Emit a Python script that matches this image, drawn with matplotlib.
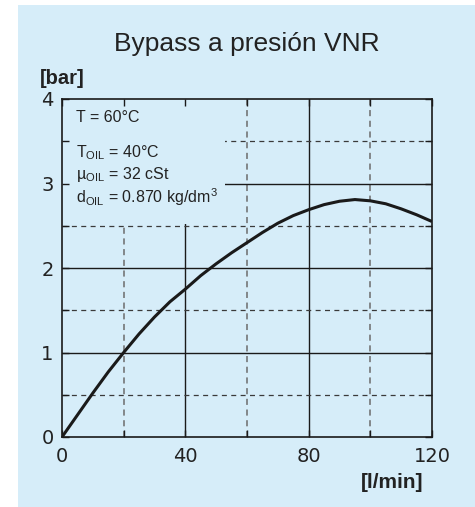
import matplotlib
matplotlib.use("Agg")
import matplotlib.pyplot as plt
from matplotlib.patches import Rectangle

# curve
flow = [0, 5, 10, 15, 20, 25, 30, 35, 40, 45, 50, 55, 60,
        65, 70, 75, 80, 85, 90, 95, 100, 105, 110, 115, 120]
pressure = [0, 0.26, 0.52, 0.77, 1.0, 1.22, 1.42, 1.60, 1.75, 1.91, 2.05, 2.18, 2.30,
            2.42, 2.53, 2.62, 2.69, 2.75, 2.79, 2.81, 2.795, 2.76, 2.70, 2.63, 2.55]

x_major = [0, 40, 80, 120]
x_minor = [20, 60, 100]
y_major = [0, 1, 2, 3, 4]
y_minor = [0.5, 1.5, 2.5, 3.5]

title = "Bypass a presión VNR"
notes = [("T = 60°C", 3.73),
         (r"T$_{\rm OIL}$ = 40°C", 3.31),
         (r"µ$_{\rm OIL}$ = 32 cSt", 3.05),
         (r"d$_{\rm OIL}$ = 0.870 kg/dm$^3$", 2.77)]

bg = "#d6edf9"
plt.rcParams["mathtext.fontset"] = "custom"
plt.rcParams["mathtext.rm"] = "Liberation Sans"
plt.rcParams["mathtext.it"] = "Liberation Sans"

fig = plt.figure(figsize=(4.75, 5.07), dpi=100)
fig.patches.append(Rectangle((18 / 475, 0), 1, (507 - 5) / 507, transform=fig.transFigure,
                             facecolor=bg, edgecolor="none", zorder=-1))
ax = fig.add_axes([62 / 475, 70 / 507, 370 / 475, 338 / 507])
ax.set_zorder(1)
ax.set_facecolor(bg)

# grid
for v in x_major[1:-1]:
    ax.axvline(v, color="#1a1a1a", lw=1.0, zorder=1)
for v in x_minor:
    ax.axvline(v, color="#6b6b6b", lw=1.1, dashes=(4, 3), zorder=1)
for v in y_major[1:-1]:
    ax.axhline(v, color="#1a1a1a", lw=1.0, zorder=1)
for v in y_minor:
    ax.axhline(v, color="#3a3a3a", lw=0.9, dashes=(4, 3.5), zorder=1)

# box behind the notes hides the grid
ax.add_patch(Rectangle((0, 2.52), 53, 1.48, facecolor=bg, edgecolor="none", zorder=2))

ax.plot(flow, pressure, color="#1a1a1a", lw=2.2, zorder=3, solid_capstyle="butt",
        solid_joinstyle="round")

for txt, yy in notes:
    ax.text(4.5, yy, txt, fontsize=11.5, family="Liberation Sans", color="#222222",
            va="baseline", ha="left", zorder=4)

ax.set_xlim(0, 120)
ax.set_ylim(0, 4)
ax.set_xticks(x_major)
ax.set_xticks(x_minor, minor=True)
ax.set_yticks(y_major)
ax.set_yticks(y_minor, minor=True)
ax.set_axisbelow(False)
ax.tick_params(which="both", direction="in", length=5, width=1, top=True, right=True,
               color="#1a1a1a")
ax.tick_params(axis="x", which="major", labelsize=14, pad=7, labelcolor="#222222")
ax.tick_params(axis="y", which="major", labelsize=14, pad=6, labelcolor="#222222")
for s in ax.spines.values():
    s.set_linewidth(1.2)
    s.set_color("#1a1a1a")
    s.set_zorder(5)

fig.text(247 / 475, (507 - 51) / 507, title, fontsize=19, family="Liberation Sans",
         color="#222222", ha="center", va="baseline")
fig.text(40 / 475, (507 - 84) / 507, "[bar]", fontsize=14.5, fontweight="bold",
         family="Liberation Sans", color="#222222", ha="left", va="baseline")
fig.text(423 / 475, (507 - 488) / 507, "[l/min]", fontsize=15, fontweight="bold",
         family="Liberation Sans", color="#222222", ha="right", va="baseline")

fig.savefig("out.png", dpi=100)
